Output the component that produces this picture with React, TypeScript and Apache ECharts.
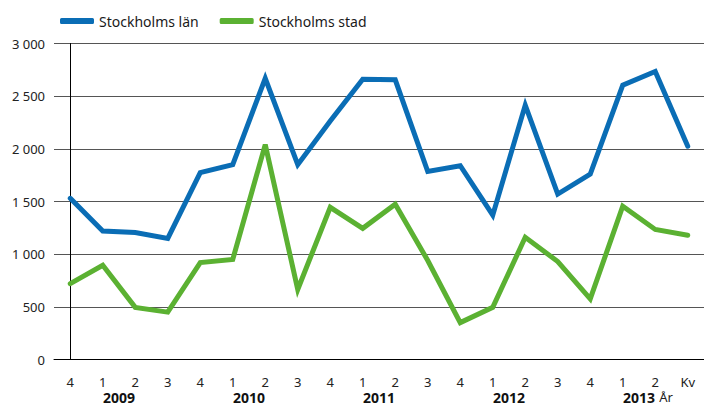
import React, { useEffect, useRef } from "react";
import * as echarts from "echarts";

const quarterLabels = ["4", "1", "2", "3", "4", "1", "2", "3", "4", "1", "2", "3", "4", "1", "2", "3", "4", "1", "2", "Kv"];
const lanValues = [1530, 1220, 1205, 1150, 1775, 1850, 2670, 1850, 2265, 2660, 2655, 1785, 1840, 1370, 2415, 1570, 1760, 2605, 2735, 2025];
const stadValues = [720, 895, 495, 450, 920, 950, 2040, 665, 1445, 1245, 1475, 940, 350, 495, 1160, 930, 575, 1455, 1235, 1180];
const yearPositions = [1.5, 5.5, 9.5, 13.5, 17.5];
const yearLabels = ["2009", "2010", "2011", "2012", "2013"];
const unitPosition = 18.33;
const unitLabel = "År";
const seriesNames = ["Stockholms län", "Stockholms stad"];
const yTicks = [0, 500, 1000, 1500, 2000, 2500, 3000];

const FONT = "'Noto Sans', 'DejaVu Sans', sans-serif";

export default function App() {
  const ref = useRef<HTMLDivElement>(null);
  useEffect(() => {
    if (!ref.current) return;
    const chart = echarts.init(ref.current, undefined, { renderer: "svg" });
    const blue = "#0A6DB5";
    const green = "#5BB132";
    chart.setOption({
      animation: false,
      textStyle: { fontFamily: FONT },
      legend: {
        left: 55,
        top: 9,
        itemWidth: 34,
        itemHeight: 6,
        itemGap: 21,
        icon: "roundRect",
        textStyle: { fontSize: 14, color: "#1a1a1a", fontFamily: FONT },
        data: seriesNames,
      },
      grid: { left: 54, right: -3, top: 43.5, bottom: 45.5, containLabel: false },
      xAxis: [
        {
          type: "category",
          data: quarterLabels,
          boundaryGap: true,
          axisLine: { show: true, lineStyle: { color: "#000", width: 1 } },
          axisTick: { show: false },
          axisLabel: { fontSize: 13, lineHeight: 13, color: "#222", margin: 16, interval: 0, fontFamily: FONT },
        },
        {
          type: "value",
          position: "bottom",
          min: -0.5,
          max: 19.5,
          axisLine: { show: false },
          axisTick: { show: false },
          splitLine: { show: false },
          axisLabel: {
            customValues: [...yearPositions, unitPosition],
            margin: 30,
            fontSize: 14,
            lineHeight: 15,
            color: "#111",
            fontFamily: FONT,
            formatter: (v: number) => {
              const i = yearPositions.findIndex((p) => Math.abs(p - v) < 0.01);
              if (i >= 0) return "{b|" + yearLabels[i] + "}";
              return "{n|" + unitLabel + "}";
            },
            rich: {
              b: { fontWeight: "bold", fontSize: 14, lineHeight: 15, color: "#111", fontFamily: FONT },
              n: { fontSize: 13, lineHeight: 15, color: "#222", fontFamily: FONT },
            },
          },
        },
      ],
      yAxis: {
        type: "value",
        min: 0,
        max: 3000,
        interval: 500,
        axisLine: { show: true, lineStyle: { color: "#000", width: 1 } },
        axisTick: { show: false },
        splitLine: { show: true, lineStyle: { color: "#555", width: 1 } },
        axisLabel: {
          fontSize: 13,
          color: "#222",
          margin: 9,
          fontFamily: FONT,
          formatter: (v: number) =>
            yTicks.includes(v) ? String(v).replace(/\B(?=(\d{3})+(?!\d))/g, " ") : "",
        },
      },
      series: [
        {
          name: seriesNames[0],
          type: "line",
          data: lanValues,
          symbol: "none",
          lineStyle: { color: blue, width: 5, cap: "round", join: "miter" },
          itemStyle: { color: blue },
        },
        {
          name: seriesNames[1],
          type: "line",
          data: stadValues,
          symbol: "none",
          lineStyle: { color: green, width: 5, cap: "round", join: "miter" },
          itemStyle: { color: green },
        },
      ],
    });
    return () => chart.dispose();
  }, []);
  return <div ref={ref} style={{ width: 704, height: 405, position: "absolute", left: 0, top: 0 }} />;
}
